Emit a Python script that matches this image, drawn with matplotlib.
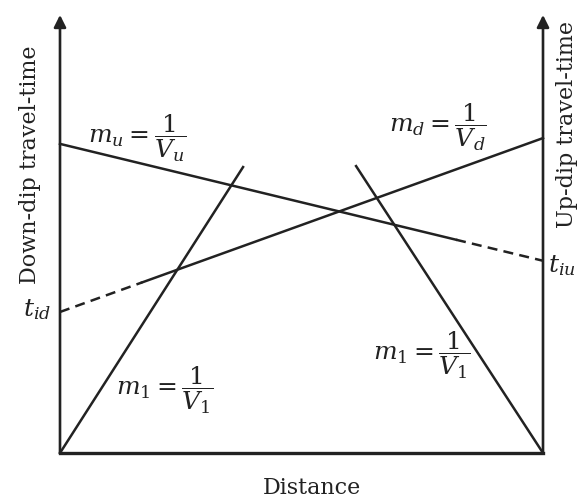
import matplotlib
matplotlib.use('Agg')

import matplotlib.pyplot as plt

# distance runs 0..10 between the two shot points, time in the same units
span = 10.0
t_top = 9.07

# direct arrivals from each end (slope 1/V1)
direct_left_x = [0.0, 3.79]
direct_left_t = [0.0, 5.92]
direct_right_x = [10.0, 6.13]
direct_right_t = [0.0, 5.94]

# up-dip refracted arrival (m_u), solid then extrapolated back to t_iu
up_x = [0.0, 8.2]
up_t = [6.40, 6.40 - 8.2 * (6.40 - 3.98) / 10.0]
up_dash_x = [8.2, 10.0]
up_dash_t = [up_t[1], 3.98]

# down-dip refracted arrival (m_d), extrapolated back to t_id
down_x = [1.7, 10.0]
down_t = [2.92 + 1.7 * (6.52 - 2.92) / 10.0, 6.52]
down_dash_x = [0.0, 1.7]
down_dash_t = [2.92, down_t[0]]

plt.rcParams['mathtext.fontset'] = 'dejavuserif'
plt.rcParams['font.family'] = 'DejaVu Serif'

fig = plt.figure(figsize=(5.77, 5.0), dpi=100)
ax = fig.add_axes([0, 0, 1, 1])
ax.set_xlim(-60 / 48.3, 517 / 48.3)
ax.set_ylim(-47 / 48.3, 453 / 48.3)
ax.axis('off')

ink = '#222222'
lw = 1.8

# frame: two time axes and the distance baseline
ax.plot([0, span], [0, 0], color=ink, lw=2.4, solid_capstyle='projecting')
for xa in (0, span):
    ax.annotate('', xy=(xa, t_top), xytext=(xa, 0),
                arrowprops=dict(arrowstyle='-|>', color=ink, lw=1.9,
                                mutation_scale=18, shrinkA=0, shrinkB=0))

ax.plot(direct_left_x, direct_left_t, color=ink, lw=lw)
ax.plot(direct_right_x, direct_right_t, color=ink, lw=lw)
ax.plot(up_x, up_t, color=ink, lw=lw)
ax.plot(up_dash_x, up_dash_t, color=ink, lw=lw, ls=(0, (4, 2.5)))
ax.plot(down_x, down_t, color=ink, lw=lw)
ax.plot(down_dash_x, down_dash_t, color=ink, lw=lw, ls=(0, (4, 2.5)))

fs = 16
ms = 18
ax.text(-0.62, 5.96, 'Down-dip travel-time', rotation=90, fontsize=fs,
        ha='center', va='center', color=ink)
ax.text(10.5, 6.8, 'Up-dip travel-time', rotation=90, fontsize=fs,
        ha='center', va='center', color=ink)
ax.text(5.22, -0.72, 'Distance', fontsize=fs, ha='center', va='center', color=ink)

ax.text(1.6, 6.52, r'$m_u = \dfrac{1}{V_u}$', fontsize=ms, ha='center', va='center', color=ink)
ax.text(7.83, 6.75, r'$m_d = \dfrac{1}{V_d}$', fontsize=ms, ha='center', va='center', color=ink)
ax.text(2.17, 1.30, r'$m_1 = \dfrac{1}{V_1}$', fontsize=ms, ha='center', va='center', color=ink)
ax.text(7.5, 2.03, r'$m_1 = \dfrac{1}{V_1}$', fontsize=ms, ha='center', va='center', color=ink)
ax.text(-0.48, 2.96, r'$t_{id}$', fontsize=ms, ha='center', va='center', color=ink)
ax.text(10.11, 3.89, r'$t_{iu}$', fontsize=ms, ha='left', va='center', color=ink)

fig.savefig('out.png', dpi=100, facecolor='white')
